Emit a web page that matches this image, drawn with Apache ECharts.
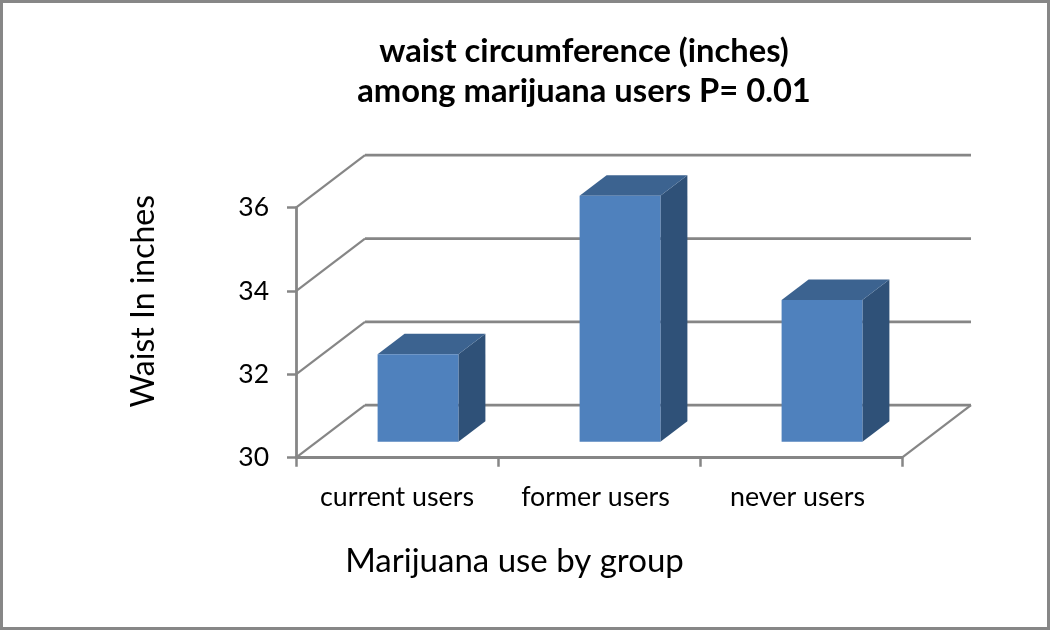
<!DOCTYPE html>
<html>
<head>
<meta charset="utf-8">
<title>waist circumference</title>
<script src="https://cdn.jsdelivr.net/npm/echarts@6/dist/echarts.min.js"></script>
<style>
  html, body { margin: 0; padding: 0; background: #fff; }
  #main { width: 1050px; height: 630px; }
</style>
</head>
<body>
<div id="main"></div>
<script>
var categories = ['current users', 'former users', 'never users'];
var waistValues = [32.1, 35.9, 33.4];
var gridValues = [30, 32, 34, 36];

// depth of the fake 3d box, in pixels
var WALL_DX = 69, WALL_DY = -52.5;
var BAR_DX = 21, BAR_DY = -16;
var BAR_DEPTH_X = 27, BAR_DEPTH_Y = -20.5;
var AXIS_COLOR = '#868686';
var FONT = 'Lato';

var chartDom = document.getElementById('main');
var myChart = echarts.init(chartDom);

function renderWall(params, api) {
  var band = api.size([1, 0])[0];
  var p = api.coord([0, api.value(0)]);
  var x0 = p[0] - band / 2;
  var x1 = x0 + band * categories.length;
  var backY = p[1] + WALL_DY;
  var children = [
    { type: 'line', shape: { x1: x0, y1: p[1], x2: x0 + WALL_DX, y2: backY },
      style: { stroke: AXIS_COLOR, lineWidth: 2.2 } },
    { type: 'line', shape: { x1: x0 + WALL_DX, y1: backY, x2: x1 + WALL_DX, y2: backY },
      style: { stroke: AXIS_COLOR, lineWidth: 2.8 } }
  ];
  // right edge of the floor
  if (params.dataIndex === 0) {
    children.push({ type: 'line', shape: { x1: x1, y1: p[1], x2: x1 + WALL_DX, y2: backY },
      style: { stroke: AXIS_COLOR, lineWidth: 2.2 } });
  }
  return { type: 'group', children: children };
}

function renderBar(params, api) {
  var i = api.value(0);
  var top = api.coord([i, api.value(1)]);
  var base = api.coord([i, 30]);
  var w = api.size([1, 0])[0] * 0.4;
  var l = top[0] + BAR_DX - w / 2;
  var r = l + w;
  var t = top[1] + BAR_DY;
  var b = base[1] + BAR_DY;
  var dx = BAR_DEPTH_X, dy = BAR_DEPTH_Y;
  return {
    type: 'group',
    children: [
      { type: 'polygon', shape: { points: [[r, t], [r + dx, t + dy], [r + dx, b + dy], [r, b]] },
        style: { fill: '#2f5178' } },
      { type: 'polygon', shape: { points: [[l, t], [l + dx, t + dy], [r + dx, t + dy], [r, t]] },
        style: { fill: '#3c6390' } },
      { type: 'rect', shape: { x: l, y: t, width: w, height: b - t },
        style: { fill: '#4f81bd' } }
    ]
  };
}

var option = {
  animation: false,
  backgroundColor: '#fff',
  title: {
    text: 'waist circumference (inches)\namong marijuana users P= 0.01',
    left: 579,
    top: 26,
    textAlign: 'center',
    textStyle: { fontFamily: FONT, fontSize: 32.7, fontWeight: 'bold', lineHeight: 40, color: '#000' }
  },
  grid: { left: 296, top: 207.7, width: 606, height: 250 },
  xAxis: {
    type: 'category',
    data: categories,
    name: 'Marijuana use by group',
    nameLocation: 'middle',
    nameGap: 87,
    nameTextStyle: { fontFamily: FONT, fontSize: 33, color: '#000', padding: [0, 169, 0, 0] },
    axisLine: { lineStyle: { color: AXIS_COLOR, width: 2.8 } },
    axisTick: { show: true, length: 9, alignWithLabel: false, lineStyle: { color: AXIS_COLOR, width: 2.5 } },
    axisLabel: {
      fontFamily: FONT, fontSize: 26.8, color: '#000', margin: 26, interval: 0,
      // the 2nd and 3rd labels sit a little left of their band centre
      formatter: function (value, index) {
        return '{c' + index + '|' + value + '}';
      },
      rich: {
        c0: { fontFamily: FONT, fontSize: 26.8, color: '#000' },
        c1: { fontFamily: FONT, fontSize: 26.8, color: '#000', padding: [0, 7, 0, 0] },
        c2: { fontFamily: FONT, fontSize: 26.8, color: '#000', padding: [0, 7, 0, 0] }
      }
    }
  },
  yAxis: {
    type: 'value',
    min: 30,
    max: 36,
    interval: 2,
    name: 'Waist In inches',
    nameLocation: 'middle',
    nameRotate: 90,
    nameGap: 136,
    nameTextStyle: { fontFamily: FONT, fontSize: 32, color: '#000', padding: [0, 0, 0, 63] },
    axisLine: { show: true, lineStyle: { color: AXIS_COLOR, width: 2.8 } },
    axisTick: { show: true, length: 9, lineStyle: { color: AXIS_COLOR, width: 2.5 } },
    axisLabel: { fontFamily: FONT, fontSize: 26.5, color: '#000', margin: 27, padding: [8, 0, 0, 0] },
    splitLine: { show: false }
  },
  series: [
    {
      type: 'custom',
      coordinateSystem: 'cartesian2d',
      renderItem: renderWall,
      data: gridValues.map(function (v) { return [v]; }),
      encode: { y: 0 },
      silent: true,
      z: 1
    },
    {
      type: 'custom',
      coordinateSystem: 'cartesian2d',
      renderItem: renderBar,
      data: waistValues.map(function (v, i) { return [i, v]; }),
      encode: { x: 0, y: 1 },
      z: 2
    }
  ],
  graphic: [
    { type: 'rect', silent: true, shape: { x: 1.5, y: 1.5, width: 1047, height: 627 },
      style: { fill: null, stroke: '#878787', lineWidth: 3 } }
  ]
};

myChart.setOption(option);
</script>
</body>
</html>
